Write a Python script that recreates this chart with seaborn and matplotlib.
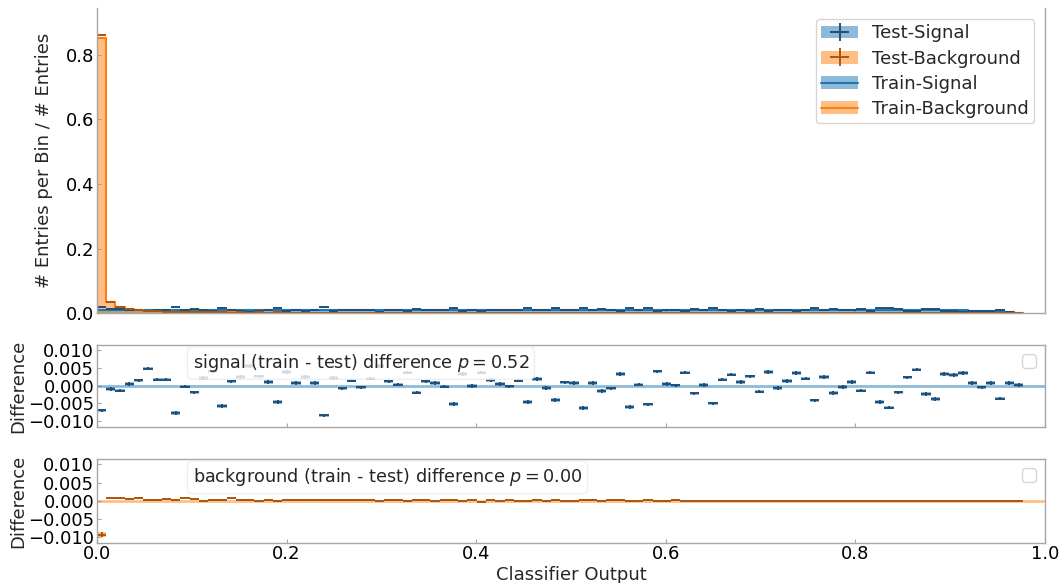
import numpy as np
import pandas as pd
import matplotlib
matplotlib.use("Agg")
import matplotlib.pyplot as plt
import seaborn as sns
from matplotlib.patches import Patch
from matplotlib.lines import Line2D

# ---------------- data ----------------
x_range = (0.0, 0.977)
n_bins = 100

sig_train = [
    0.0106, 0.0103, 0.0101, 0.0102, 0.0100, 0.0103, 0.0101, 0.0102, 0.0100, 0.0103,
    0.0102, 0.0101, 0.0104, 0.0102, 0.0100, 0.0103, 0.0101, 0.0102, 0.0104, 0.0101,
    0.0103, 0.0102, 0.0100, 0.0102, 0.0103, 0.0101, 0.0102, 0.0104, 0.0101, 0.0103,
    0.0102, 0.0100, 0.0103, 0.0101, 0.0102, 0.0104, 0.0101, 0.0103, 0.0102, 0.0100,
    0.0102, 0.0103, 0.0101, 0.0102, 0.0104, 0.0101, 0.0103, 0.0102, 0.0100, 0.0103,
    0.0101, 0.0102, 0.0104, 0.0101, 0.0103, 0.0102, 0.0100, 0.0102, 0.0103, 0.0101,
    0.0102, 0.0104, 0.0101, 0.0103, 0.0102, 0.0100, 0.0103, 0.0101, 0.0102, 0.0104,
    0.0101, 0.0103, 0.0102, 0.0100, 0.0102, 0.0103, 0.0101, 0.0102, 0.0104, 0.0101,
    0.0103, 0.0102, 0.0100, 0.0103, 0.0101, 0.0102, 0.0100, 0.0099, 0.0097, 0.0095,
    0.0093, 0.0090, 0.0086, 0.0081, 0.0075, 0.0067, 0.0057, 0.0044, 0.0028, 0.0010,
]

# train - test (signal)
sig_diff = [
    -0.0070, -0.0009, -0.0014, 0.0005, 0.0015, 0.0048, 0.0017, 0.0017, -0.0078, -0.0003,
    -0.0019, 0.0021, 0.0040, -0.0058, 0.0012, 0.0024, 0.0055, 0.0026, 0.0011, -0.0046,
    0.0038, 0.0008, 0.0025, 0.0008, -0.0084, 0.0022, -0.0008, 0.0014, -0.0005, 0.0020,
    0.0055, 0.0012, 0.0003, 0.0037, -0.0020, 0.0012, 0.0008, -0.0003, -0.0052, 0.0033,
    -0.0001, 0.0037, 0.0016, 0.0004, -0.0002, 0.0014, -0.0046, 0.0018, -0.0007, -0.0041,
    0.0009, 0.0008, -0.0063, 0.0008, -0.0015, -0.0008, 0.0033, -0.0060, 0.0003, -0.0053,
    0.0040, 0.0004, 0.0001, 0.0037, -0.0022, 0.0002, -0.0050, 0.0017, 0.0031, 0.0010,
    0.0026, -0.0017, 0.0038, -0.0007, 0.0013, 0.0035, 0.0020, -0.0042, 0.0024, -0.0021,
    -0.0004, 0.0011, -0.0014, 0.0037, -0.0046, -0.0062, -0.0019, 0.0023, 0.0045, -0.0024,
    -0.0038, 0.0033, 0.0030, 0.0036, 0.0008, -0.0005, 0.0008, -0.0037, 0.0008, 0.0002,
]

bkg_train = [
    0.8510, 0.0350, 0.0195, 0.0122, 0.0090, 0.0072, 0.0060, 0.0051, 0.0044, 0.0038,
    0.0034, 0.0030, 0.0027, 0.0025, 0.0023, 0.0021, 0.0019, 0.0018, 0.0017, 0.0016,
    0.0015, 0.0014, 0.0013, 0.0013, 0.0012, 0.0011, 0.0011, 0.0010, 0.0010, 0.0009,
    0.0009, 0.0009, 0.0008, 0.0008, 0.0008, 0.0007, 0.0007, 0.0007, 0.0007, 0.0006,
    0.0006, 0.0006, 0.0006, 0.0006, 0.0005, 0.0005, 0.0005, 0.0005, 0.0005, 0.0005,
    0.0005, 0.0004, 0.0004, 0.0004, 0.0004, 0.0004, 0.0004, 0.0004, 0.0004, 0.0004,
    0.0004, 0.0004, 0.0003, 0.0003, 0.0003, 0.0003, 0.0003, 0.0003, 0.0003, 0.0003,
    0.0003, 0.0003, 0.0003, 0.0003, 0.0003, 0.0003, 0.0003, 0.0003, 0.0003, 0.0003,
    0.0002, 0.0002, 0.0002, 0.0002, 0.0002, 0.0002, 0.0002, 0.0002, 0.0002, 0.0002,
    0.0002, 0.0002, 0.0002, 0.0002, 0.0002, 0.0002, 0.0002, 0.0002, 0.0002, 0.0002,
]

# train - test (background)
bkg_diff = [
    -0.0094, 0.0008, 0.0006, 0.0004, 0.0006, 0.0003, 0.0003, 0.0005, 0.0003, 0.0008,
    0.0004, 0.0000, 0.0003, 0.0002, 0.0007, 0.0003, 0.0002, 0.0000, 0.0002, -0.0002,
    0.0002, 0.0001, 0.0002, 0.0002, 0.0001, 0.0002, 0.0002, 0.0001, 0.0002, 0.0003,
    -0.0002, 0.0001, 0.0001, 0.0000, 0.0001, 0.0001, 0.0000, 0.0001, 0.0001, 0.0000,
    0.0001, -0.0003, 0.0001, 0.0000, 0.0001, 0.0000, 0.0000, 0.0001, 0.0000, 0.0001,
    -0.0002, 0.0000, 0.0001, 0.0002, -0.0001, 0.0001, 0.0002, 0.0000, 0.0000, 0.0001,
    0.0000, 0.0000, 0.0002, 0.0000, 0.0000, 0.0000, 0.0000, 0.0000, 0.0000, 0.0000,
    0.0000, 0.0000, 0.0000, 0.0000, 0.0000, 0.0000, 0.0000, 0.0000, 0.0000, 0.0000,
    0.0000, 0.0000, 0.0000, 0.0000, 0.0000, 0.0000, 0.0000, 0.0000, 0.0000, 0.0000,
    0.0000, 0.0000, 0.0000, 0.0000, 0.0000, 0.0000, 0.0000, 0.0000, 0.0000, 0.0000,
]

sig_err = 0.0005        # per-bin uncertainty on signal entries / differences
bkg_err_first = 0.0007  # uncertainty in the first background bin
bkg_err_rest = 0.00012

sig_p = 0.52
bkg_p = 0.00

legend_labels = ["Test-Signal", "Test-Background", "Train-Signal", "Train-Background"]

# ---------------- derived ----------------
edges = np.linspace(x_range[0], x_range[1], n_bins + 1)
centers = 0.5 * (edges[:-1] + edges[1:])
width = edges[1] - edges[0]

sig_train_a = np.array(sig_train)
bkg_train_a = np.array(bkg_train)
sig_diff_a = np.array(sig_diff)
bkg_diff_a = np.array(bkg_diff)
sig_test_a = np.clip(sig_train_a - sig_diff_a, 0, None)
bkg_test_a = np.clip(bkg_train_a - bkg_diff_a, 0, None)
sig_err_a = np.full(n_bins, sig_err)
bkg_err_a = np.full(n_bins, bkg_err_rest)
bkg_err_a[0] = bkg_err_first

C0 = "#1f77b4"
C1 = "#ff7f0e"
C0_dark = "#1f4f78"
C1_dark = "#a8560f"

# ---------------- style ----------------
sns.set_style("white")
plt.rcParams.update({
    "font.family": ["DejaVu Sans"],
    "font.size": 13,
    "axes.edgecolor": "0.65",
    "axes.linewidth": 1.0,
    "xtick.bottom": True,
    "ytick.left": True,
    "xtick.direction": "in",
    "ytick.direction": "in",
    "xtick.color": "0.65",
    "ytick.color": "0.65",
    "xtick.labelcolor": "black",
    "ytick.labelcolor": "black",
    "xtick.labelsize": 13,
    "ytick.labelsize": 13,
    "axes.labelsize": 13,
    "xtick.major.size": 3.0,
    "ytick.major.size": 3.0,
    "xtick.major.pad": 1.5,
    "ytick.major.pad": 2.0,
})

fig = plt.figure(figsize=(10.62, 5.83), dpi=100)
ax_top = fig.add_axes([0.0913, 0.463, 0.8927, 0.523])
ax_sig = fig.add_axes([0.0913, 0.2676, 0.8927, 0.1407])
ax_bkg = fig.add_axes([0.0913, 0.0686, 0.8927, 0.1441])


def test_boxes(ax, vals, errs, color, dark):
    ax.bar(centers, 2 * errs, bottom=vals - errs, width=width,
           color=color, alpha=0.5, linewidth=0)
    return ax.errorbar(centers, vals, xerr=width / 2, yerr=errs, fmt="none",
                       ecolor=dark, elinewidth=1.4, capsize=0)


# ---- top panel ----
for vals, color in [(sig_train_a, C0), (bkg_train_a, C1)]:
    df = pd.DataFrame({"output": centers, "frac": vals})
    sns.histplot(data=df, x="output", weights="frac", bins=n_bins, binrange=x_range,
                 element="step", fill=True, alpha=0.5, linewidth=0, color=color,
                 ax=ax_top)
    sns.histplot(data=df, x="output", weights="frac", bins=n_bins, binrange=x_range,
                 element="step", fill=False, linewidth=1.5, color=color, ax=ax_top)

eb_sig = test_boxes(ax_top, sig_test_a, sig_err_a, C0, C0_dark)
eb_bkg = test_boxes(ax_top, bkg_test_a, bkg_err_a, C1, C1_dark)

ax_top.set_xlim(0, 1)
ax_top.set_ylim(0, 0.945)
ax_top.set_yticks([0.0, 0.2, 0.4, 0.6, 0.8])
ax_top.set_xticks([0.0, 0.2, 0.4, 0.6, 0.8, 1.0])
ax_top.tick_params(labelbottom=False)
ax_top.spines["top"].set_visible(False)
ax_top.set_xlabel("")
ax_top.set_ylabel("# Entries per Bin / # Entries")
ax_top.yaxis.set_label_coords(-0.046, 0.5)

handles = [
    (Patch(facecolor=C0, alpha=0.5, linewidth=0), eb_sig),
    (Patch(facecolor=C1, alpha=0.5, linewidth=0), eb_bkg),
    (Patch(facecolor=C0, alpha=0.5, linewidth=0), Line2D([], [], color=C0, lw=1.5)),
    (Patch(facecolor=C1, alpha=0.5, linewidth=0), Line2D([], [], color=C1, lw=1.5)),
]
ax_top.legend(handles, legend_labels, loc="upper right", fontsize=13,
              frameon=True, edgecolor="0.8", framealpha=0.8, fancybox=True,
              labelspacing=0.4, borderpad=0.3, borderaxespad=0.6)

# ---- difference panels ----
diff_specs = [
    (ax_sig, sig_diff_a, sig_err_a, C0, C0_dark,
     f"signal (train - test) difference $p = {sig_p:.2f}$"),
    (ax_bkg, bkg_diff_a, bkg_err_a, C1, C1_dark,
     f"background (train - test) difference $p = {bkg_p:.2f}$"),
]
for ax, d, e, color, dark, txt in diff_specs:
    ax.axhline(0, color=color, alpha=0.5, lw=2)
    test_boxes(ax, d, e, color, dark)
    ax.set_xlim(0, 1)
    ax.set_ylim(-0.0117, 0.0115)
    ax.set_yticks([-0.010, -0.005, 0.0, 0.005, 0.010])
    ax.set_yticklabels(["\u22120.010", "\u22120.005", "0.000", "0.005", "0.010"])
    ax.set_xticks([0.0, 0.2, 0.4, 0.6, 0.8, 1.0])
    ax.set_ylabel("Difference")
    ax.yaxis.set_label_coords(-0.074, 0.5)
    ax.text(0.101, 0.78, txt, transform=ax.transAxes, ha="left", va="center",
            fontsize=12.7,
            bbox=dict(boxstyle="round,pad=0.3", facecolor="white",
                      edgecolor="0.92", alpha=0.8))
    ax.legend(handles=[], labels=[], loc="upper right", frameon=True,
              edgecolor="0.8", framealpha=0.8)

ax_sig.tick_params(labelbottom=False)
ax_bkg.set_xlabel("Classifier Output", labelpad=2)
ax_bkg.set_xticklabels(["0.0", "0.2", "0.4", "0.6", "0.8", "1.0"])

fig.savefig("out.png", dpi=100)
